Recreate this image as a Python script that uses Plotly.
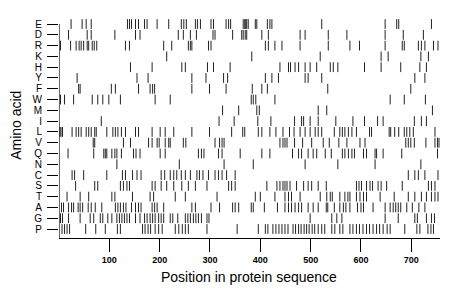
import plotly.graph_objects as go

# amino acids from top to bottom
amino_acids = ["E", "D", "R", "K", "H", "Y", "F", "W", "M", "I",
               "L", "V", "Q", "N", "C", "S", "T", "A", "G", "P"]

pos_E = [24, 46, 54, 64, 136, 140, 144, 152, 158, 170, 175, 195, 218, 243, 248, 253,
         271, 275, 281, 302, 307, 332, 337, 341, 366, 369, 371, 373, 376, 390, 393, 414, 419, 423, 522,
         648, 671, 675, 740]
pos_D = [19, 56, 64, 111, 152, 161, 237, 247, 261,
         273, 306, 310, 345, 363, 366, 370, 373, 403, 416, 479, 489, 535,
         572, 648, 684, 724]
pos_R = [3, 23, 34, 40, 44, 49, 56, 59, 66, 70, 75, 132, 140, 208, 224, 257, 261, 264,
         297, 302, 410, 416, 429, 443, 479, 535,
         578, 597, 648, 682, 686, 714, 720, 727, 744, 753]
pos_K = [214, 383, 519, 640, 654, 719, 734]
pos_H = [142, 185, 244, 251, 295, 307, 340, 439, 456, 460, 469, 476, 489, 499, 512,
         539, 545, 554, 607, 640, 679, 717, 730]
pos_Y = [36, 155, 177, 264, 292, 327, 335, 410, 423, 436, 489, 495, 522, 707, 727]
pos_F = [39, 42, 104, 112, 158, 181, 186, 190, 264, 299, 332, 384, 403, 414, 534, 699]
pos_W = [3, 11, 29, 66, 77, 87, 99, 122, 191, 221, 382, 386, 391, 429, 658, 686, 728]
pos_M = [325, 357, 393, 398, 515, 532, 742]
pos_I = [84, 318, 348, 395, 421, 468, 482, 486, 499, 515,
         550, 584, 607, 633, 644, 706, 720, 730]
pos_L = [2, 4, 7, 26, 34, 39, 44, 54, 59, 64, 71, 74, 95, 107, 112, 117, 124, 132, 152, 158,
         185, 201, 211, 228, 264, 299, 343, 365, 369, 396, 403, 419, 431, 445, 458, 467, 479,
         489, 499, 509, 515, 522, 547, 558, 563, 568, 575, 582, 591, 617, 621, 656, 659, 667,
         675, 686, 691, 697, 704, 747]
pos_V = [68, 71, 128, 142, 178, 185, 195, 199, 211, 218, 221, 247, 252,
         310, 319, 324, 328, 439, 445, 449, 453, 468, 484, 502, 525,
         537, 556, 572, 598, 608, 689, 694, 699, 706, 729, 747, 752, 755]
pos_Q = [18, 69, 89, 92, 95, 105, 111, 115, 124, 148, 153, 161, 201, 211,
         277, 283, 288, 317, 324, 360, 403, 419, 464, 476, 482, 495, 505, 512, 529,
         541, 563, 568, 575, 582, 587, 605, 611, 628, 631, 644, 681, 752]
pos_N = [115, 239, 328, 386, 489, 554, 628, 719]
pos_C = [26, 31, 49, 95, 126, 132, 146, 155, 163, 203, 210, 221, 228, 234, 243, 251, 261,
         274, 279, 286, 297, 310, 317, 324, 333, 350, 694, 707, 714, 727, 753]
pos_S = [33, 71, 77, 122, 128, 135, 140, 185, 191, 203, 214, 228, 244, 257,
         271, 294, 337, 343, 350, 413, 433, 439, 445, 449, 453, 459, 472, 486, 495, 502, 515, 531,
         591, 596, 601, 611, 618, 623, 634, 640, 651, 682, 734, 740, 747]
pos_T = [16, 42, 59, 105, 111, 146, 181, 188, 231, 251,
         314, 390, 400, 429, 449, 456, 462, 479, 519, 532,
         539, 543, 558, 568, 574, 578, 591, 598, 605, 611, 638, 666, 694, 707, 720, 730, 740, 747, 753]
pos_A = [5, 9, 19, 25, 29, 38, 42, 47, 58, 64, 72, 85, 112, 117, 122, 128, 133, 144, 152, 158,
         163, 185, 190, 195, 208, 264, 271, 302, 319, 345, 350, 357, 382, 386, 408, 434, 449, 456,
         462, 469, 476, 482, 495, 505, 515, 531, 534, 547, 558, 565, 570, 578, 593, 600, 605, 624,
         648, 658, 664, 669, 674, 679, 691, 702, 715, 727]
pos_G = [3, 7, 19, 42, 62, 69, 82, 87, 97, 105, 115, 120, 125, 130, 135, 140, 152, 161,
         170, 175, 181, 186, 191, 198, 203, 208, 221, 226, 236, 251, 256, 261, 267, 272, 277,
         283, 294, 298, 499, 542, 552, 562, 648, 674, 707, 712, 730, 740, 746]
pos_P = [6, 11, 16, 21, 53, 73, 92, 116, 122, 166, 171, 177, 182, 191, 198, 205,
         231, 238, 245, 251, 257, 294, 354, 396, 410, 415, 425, 431, 437, 443, 449, 455,
         465, 470, 476, 481, 487, 492, 497, 503, 508, 515, 522, 528, 542, 548, 558, 564,
         578, 584, 591, 597, 604, 611, 617, 624, 631, 637, 644, 652, 658, 687, 711, 717,
         733, 739, 744]

positions = {"E": pos_E, "D": pos_D, "R": pos_R, "K": pos_K, "H": pos_H, "Y": pos_Y,
             "F": pos_F, "W": pos_W, "M": pos_M, "I": pos_I, "L": pos_L, "V": pos_V,
             "Q": pos_Q, "N": pos_N, "C": pos_C, "S": pos_S, "T": pos_T, "A": pos_A,
             "G": pos_G, "P": pos_P}

x_ticks = [100, 200, 300, 400, 500, 600, 700]
seq_len = 757

n = len(amino_acids)
row_of = {aa: n - i for i, aa in enumerate(amino_acids)}  # E -> 20, P -> 1

xs, ys = [], []
for aa in amino_acids:
    for p in positions[aa]:
        xs.append(p)
        ys.append(row_of[aa])

fig = go.Figure()
fig.add_trace(go.Scatter(
    x=xs, y=ys, mode="markers",
    marker=dict(symbol="line-ns", size=7, color="#222222",
                line=dict(color="#222222", width=1)),
    hoverinfo="skip", showlegend=False, cliponaxis=False))

fig.update_layout(
    width=460, height=299,
    margin=dict(l=59, r=20, t=18, b=61),
    paper_bgcolor="white", plot_bgcolor="white",
    font=dict(family="Liberation Sans, Arial, sans-serif", color="black"),
    xaxis=dict(range=[0, seq_len], tickvals=x_ticks, ticks="outside", ticklen=13,
               tickwidth=1, tickcolor="black", showline=True, linecolor="black",
               linewidth=1.2, showgrid=False, zeroline=False,
               tickfont=dict(size=9, weight="bold")),
    yaxis=dict(range=[0.166, 20.56], tickvals=[row_of[a] for a in amino_acids],
               ticktext=amino_acids, ticks="outside", ticklen=11, tickwidth=1,
               tickcolor="black", showline=False, showgrid=False, zeroline=False,
               ticklabelstandoff=3, tickfont=dict(size=10)),
    shapes=[dict(type="line", xref="x", yref="y", x0=0, x1=0, y0=0.166, y1=20,
                 line=dict(color="black", width=1.2))],
    annotations=[
        dict(text="Position in protein sequence", xref="paper", yref="paper",
             x=0.499, y=-0.177, xanchor="center", yanchor="middle",
             showarrow=False, font=dict(size=14)),
        dict(text="Amino acid", xref="paper", yref="paper", x=-0.113, y=0.514,
             xanchor="center", yanchor="middle", textangle=-90,
             showarrow=False, font=dict(size=14)),
    ],
)

fig.write_html("out.html", config={"displayModeBar": False, "staticPlot": True},
               post_script="document.body.style.margin='0';document.body.style.overflow='hidden';")
